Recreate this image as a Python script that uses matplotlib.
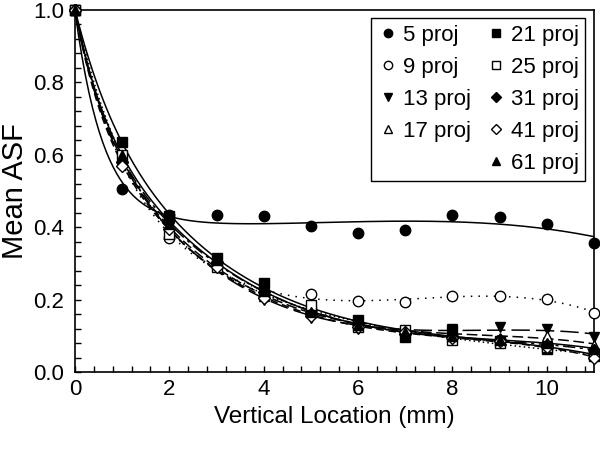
import numpy as np
import matplotlib
matplotlib.use('Agg')
import matplotlib.pyplot as plt
from matplotlib.ticker import MultipleLocator, FormatStrFormatter
from matplotlib.lines import Line2D

plt.rcParams['font.family'] = ['Liberation Sans', 'DejaVu Sans']

# posições verticais (mm)
locais = [0, 1, 2, 3, 4, 5, 6, 7, 8, 9, 10, 11]

# ASF médio por número de projeções
proj5 = [1.0, 0.506, 0.434, 0.433, 0.430, 0.403, 0.385, 0.392, 0.433, 0.428, 0.409, 0.357]
proj9 = [1.0, 0.58, 0.37, 0.30, 0.21, 0.217, 0.196, 0.193, 0.209, 0.211, 0.201, 0.164]
proj13 = [1.0, 0.57, 0.40, 0.30, 0.20, 0.150, 0.118, 0.112, 0.120, 0.125, 0.120, 0.098]
proj17 = [1.0, 0.59, 0.39, 0.30, 0.21, 0.165, 0.130, 0.115, 0.108, 0.095, 0.100, 0.075]
proj21 = [1.0, 0.636, 0.43, 0.315, 0.245, 0.170, 0.144, 0.098, 0.116, 0.085, 0.065, 0.050]
proj25 = [1.0, 0.60, 0.38, 0.29, 0.215, 0.185, 0.125, 0.116, 0.088, 0.080, 0.070, 0.045]
proj31 = [1.0, 0.58, 0.42, 0.305, 0.22, 0.160, 0.135, 0.105, 0.100, 0.090, 0.075, 0.060]
proj41 = [1.0, 0.57, 0.395, 0.29, 0.205, 0.155, 0.125, 0.110, 0.095, 0.085, 0.070, 0.040]
proj61 = [1.0, 0.60, 0.41, 0.31, 0.225, 0.165, 0.130, 0.110, 0.100, 0.090, 0.080, 0.065]

nomes = ['5 proj', '9 proj', '13 proj', '17 proj', '21 proj',
         '25 proj', '31 proj', '41 proj', '61 proj']
series = [proj5, proj9, proj13, proj17, proj21, proj25, proj31, proj41, proj61]

# estilo de cada série: marcador, preenchido?, estilo da linha
marcadores = ['o', 'o', 'v', '^', 's', 's', 'D', 'D', '^']
cheio = [True, False, True, False, True, False, True, False, True]
linhas = ['-', (0, (1, 4)), (0, (12, 4)), (0, (7, 3)), '-',
          (0, (1, 2)), (0, (8, 3, 2, 3)), (0, (5, 3)), '-']
tam = [7.5, 7.5, 7.5, 7, 7, 7, 6, 6, 7]


def ajuste(x, y):
    # regressão: constante + exponencial + cúbica, escolhendo a constante de tempo
    x = np.asarray(x, float)
    y = np.asarray(y, float)
    melhor = None
    for tau in np.linspace(0.6, 4.0, 69):
        A = np.column_stack([np.ones_like(x), np.exp(-x / tau), x, x**2, x**3])
        coef = np.linalg.lstsq(A, y, rcond=None)[0]
        erro = np.sum((A @ coef - y) ** 2)
        if melhor is None or erro < melhor[0]:
            melhor = (erro, tau, coef)
    _, tau, coef = melhor
    xx = np.linspace(x.min(), x.max(), 300)
    B = np.column_stack([np.ones_like(xx), np.exp(-xx / tau), xx, xx**2, xx**3])
    return xx, B @ coef


fig, ax = plt.subplots(figsize=(6, 4.5), dpi=100)
fig.subplots_adjust(left=0.125, right=0.99, bottom=0.173, top=0.978)

handles = []
for nome, y, m, c, ls, t in zip(nomes, series, marcadores, cheio, linhas, tam):
    xx, yy = ajuste(locais, y)
    ax.plot(xx, yy, color='black', linestyle=ls, linewidth=1.1)
    ax.plot(locais, y, linestyle='none', marker=m, markersize=t,
            markerfacecolor='black' if c else 'white', markeredgecolor='black',
            markeredgewidth=1.0, clip_on=False, zorder=3)
    handles.append(Line2D([], [], linestyle='none', marker=m, markersize=t * 0.8,
                          markerfacecolor='black' if c else 'white',
                          markeredgecolor='black', label=nome))

# entrada vazia para a primeira coluna ficar com 4 itens
vazio = Line2D([], [], linestyle='none', label=' ')
ordem = handles[:4] + [vazio] + handles[4:]
ax.legend(handles=ordem, ncol=2, loc='upper right', fontsize=16,
          frameon=True, fancybox=False, edgecolor='black', framealpha=1,
          handletextpad=0.2, columnspacing=0.7, borderpad=0.3,
          labelspacing=0.5, handlelength=0.9, borderaxespad=0,
          bbox_to_anchor=(0.983, 0.978))

ax.set_xlim(0, 11)
ax.set_ylim(0, 1.0)
ax.xaxis.set_major_locator(MultipleLocator(2))
ax.xaxis.set_minor_locator(MultipleLocator(0.4))
ax.yaxis.set_major_locator(MultipleLocator(0.2))
ax.yaxis.set_minor_locator(MultipleLocator(0.04))
ax.yaxis.set_major_formatter(FormatStrFormatter('%.1f'))
ax.tick_params(which='both', direction='in', labelsize=16, width=1, length=4)
ax.tick_params(axis='x', pad=5)
ax.tick_params(axis='y', pad=8)
for s in ax.spines.values():
    s.set_linewidth(1.2)

ax.set_xlabel('Vertical Location (mm)', fontsize=17.5, labelpad=4)
ax.set_ylabel('Mean ASF', fontsize=21, labelpad=3)

plt.savefig('out.png')
